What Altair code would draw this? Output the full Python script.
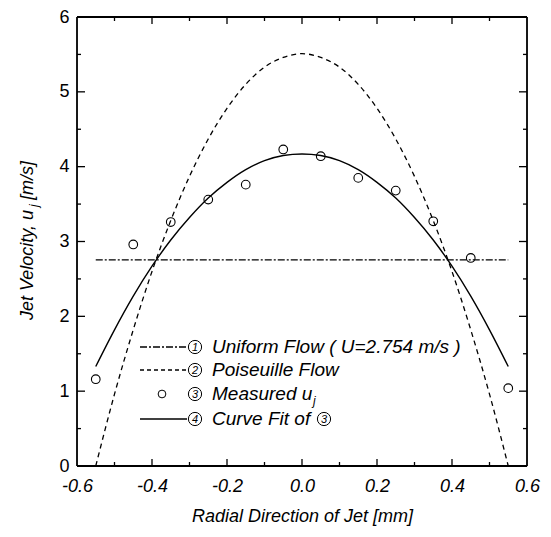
import altair as alt
import pandas as pd

# ---------------- data ----------------
meas_x = [-0.55, -0.45, -0.35, -0.25, -0.15, -0.05, 0.05, 0.15, 0.25, 0.35, 0.45, 0.55]
meas_u = [1.16, 2.96, 3.26, 3.56, 3.76, 4.23, 4.14, 3.85, 3.68, 3.27, 2.78, 1.04]

curve_x = [-0.55, -0.50, -0.45, -0.40, -0.35, -0.30, -0.25, -0.20, -0.15, -0.10, -0.05, 0.00,
           0.05, 0.10, 0.15, 0.20, 0.25, 0.30, 0.35, 0.40, 0.45, 0.50, 0.55]
pois_u = [0.00, 0.96, 1.82, 2.60, 3.28, 3.87, 4.37, 4.78, 5.10, 5.33, 5.46, 5.51,
          5.46, 5.33, 5.10, 4.78, 4.37, 3.87, 3.28, 2.60, 1.82, 0.96, 0.00]
fit_u = [1.33, 1.82, 2.27, 2.67, 3.02, 3.32, 3.58, 3.79, 3.96, 4.08, 4.15, 4.17,
         4.15, 4.08, 3.96, 3.79, 3.58, 3.32, 3.02, 2.67, 2.27, 1.82, 1.33]

uniform_x = [-0.55, 0.55]
uniform_u = [2.754, 2.754]

x_major = [-0.4, -0.2, 0.0, 0.2, 0.4]
x_minor = [-0.5, -0.3, -0.1, 0.1, 0.3, 0.5]
y_major = [1, 2, 3, 4, 5]
y_minor = [0.5, 1.5, 2.5, 3.5, 4.5, 5.5]
x_tick_labels = [-0.6, -0.4, -0.2, 0.0, 0.2, 0.4, 0.6]
y_tick_labels = [0, 1, 2, 3, 4, 5, 6]

legend_labels = ["Uniform Flow ( U=2.754 m/s )", "Poiseuille Flow", "Measured u", "Curve Fit of"]
legend_nums = ["1", "2", "3", "4"]

# ---------------- chart ----------------
FONT = "Liberation Sans, Arial, Helvetica, sans-serif"
W, H = 450, 449
xs = alt.Scale(domain=[-0.6, 0.6], nice=False, zero=False)
ys = alt.Scale(domain=[0, 6], nice=False, zero=False)

X_AX = alt.Axis(
    values=x_tick_labels, tickSize=0, domain=False, grid=False,
    labelExpr="datum.value < 0 ? '-' + format(-datum.value, '.1f') : format(datum.value, '.1f')",
    labelFont=FONT, labelFontSize=18, labelFontStyle="italic", labelColor="black",
    labelPadding=11, labelFlush=False,
    title="Radial Direction of Jet [mm]", titleFont=FONT, titleFontSize=18,
    titleFontStyle="italic", titleFontWeight="normal", titleColor="black", titlePadding=12)
Y_AX = alt.Axis(
    values=y_tick_labels, tickSize=0, domain=False, grid=False, format="d",
    labelFont=FONT, labelFontSize=18, labelColor="black", labelPadding=8, labelFlush=False,
    title="")

df_meas = pd.DataFrame({"x": meas_x, "u": meas_u})
df_curve = pd.DataFrame({"x": curve_x, "pois": pois_u, "fit": fit_u})
df_uni = pd.DataFrame({"x": uniform_x, "u": uniform_u})
one = pd.DataFrame({"a": [0]})


def X(f):
    return alt.X(f, scale=xs, axis=X_AX)


def Y(f):
    return alt.Y(f, scale=ys, axis=Y_AX)


pois = alt.Chart(df_curve).mark_line(color="black", strokeWidth=1.3, strokeDash=[5, 4],
                                     interpolate="monotone").encode(x=X("x:Q"), y=Y("pois:Q"))
fit = alt.Chart(df_curve).mark_line(color="black", strokeWidth=1.4,
                                    interpolate="monotone").encode(x=X("x:Q"), y=Y("fit:Q"))
uni = alt.Chart(df_uni).mark_line(color="black", strokeWidth=1.2,
                                  strokeDash=[7, 2, 2, 2]).encode(x=X("x:Q"), y=Y("u:Q"))
meas = alt.Chart(df_meas).mark_point(shape="circle", size=75, filled=False, color="black",
                                     strokeWidth=1.1, opacity=1).encode(x=X("x:Q"), y=Y("u:Q"))


def ticks(vals, orient, length):
    d = pd.DataFrame({"v": vals})
    c = alt.Chart(d).mark_rule(color="black", strokeWidth=1.3)
    if orient == "bottom":
        return c.encode(x=X("v:Q"), y=alt.value(H), y2=alt.value(H - length))
    if orient == "top":
        return c.encode(x=X("v:Q"), y=alt.value(0), y2=alt.value(length))
    if orient == "left":
        return c.encode(y=Y("v:Q"), x=alt.value(0), x2=alt.value(length))
    return c.encode(y=Y("v:Q"), x=alt.value(W), x2=alt.value(W - length))


tick_layers = []
for o in ["bottom", "top"]:
    tick_layers += [ticks(x_major, o, 7), ticks(x_minor, o, 4)]
for o in ["left", "right"]:
    tick_layers += [ticks(y_major, o, 8), ticks(y_minor, o, 4)]


def txt(s, x, y, size=19, style="italic", align="left", angle=0, baseline="middle"):
    return alt.Chart(one).mark_text(text=s, font=FONT, fontSize=size, fontStyle=style, align=align,
                                    baseline=baseline, angle=angle, color="black").encode(
        x=alt.value(x), y=alt.value(y))


def circ(x, y, size=175):
    return alt.Chart(one).mark_point(shape="circle", size=size, filled=False, color="black",
                                     strokeWidth=1, opacity=1).encode(x=alt.value(x), y=alt.value(y))


def seg(x1, x2, y1, y2=None, dash=None, width=1.3):
    kw = dict(color="black", strokeWidth=width)
    if dash:
        kw["strokeDash"] = dash
    enc = dict(x=alt.value(x1), x2=alt.value(x2), y=alt.value(y1))
    if y2 is not None:
        enc["y2"] = alt.value(y2)
    return alt.Chart(one).mark_rule(**kw).encode(**enc)


frame = [seg(0, W, 0), seg(0, W, H), seg(0, 0, 0, H), seg(W, W, 0, H)]
frame = [f.mark_rule(color="black", strokeWidth=1.8) for f in frame]

rows = [330, 353, 377, 402]
LX1, LX2, NUMX, TX = 63, 110, 118, 135
legend = [
    seg(LX1, LX2, rows[0], dash=[7, 2, 2, 2]),
    seg(LX1, LX2, rows[1], dash=[4, 3]),
    circ(85, rows[2], 60),
    seg(LX1, LX2, rows[3]),
]
for i in range(4):
    legend.append(circ(NUMX, rows[i]))
    legend.append(txt(legend_nums[i], NUMX, rows[i] + 0.5, size=11, align="center"))
    legend.append(txt(legend_labels[i], TX, rows[i]))
# subscript j of u_j and trailing circled 3
legend.append(txt("j", TX + 101, rows[2] + 7, size=12))
legend.append(circ(TX + 112, rows[3]))
legend.append(txt("3", TX + 112, rows[3] + 0.5, size=11, align="center"))

# y title with subscript
YX, YB = -49, 303
ytitle = [
    txt("Jet Velocity, u", YX, YB, size=18, angle=270),
    txt("j", YX + 6, YB - 113, size=12, angle=270),
    txt(" [m/s]", YX, YB - 120, size=18, angle=270),
]

chart = alt.layer(uni, pois, fit, meas, *tick_layers, *frame, *legend, *ytitle).properties(
    width=W, height=H,
    autosize=alt.AutoSizeParams(type="none"),
    padding={"left": 69, "top": 9, "right": 16, "bottom": 60},
).configure_view(strokeWidth=0).configure(background="white")

chart.save("out.html", embed_options={"renderer": "svg", "actions": False})
